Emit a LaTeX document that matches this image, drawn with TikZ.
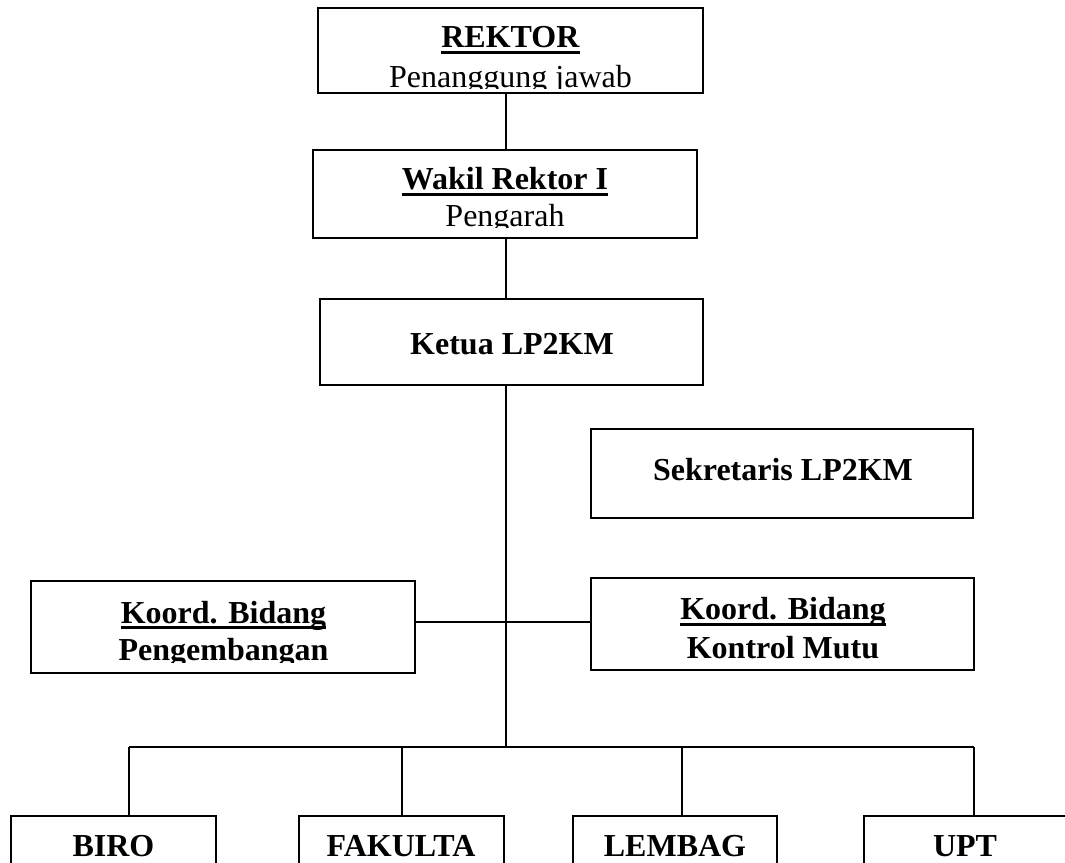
\documentclass[tikz,border=0pt]{standalone}
\usepackage{fontspec}
\setmainfont{Liberation Serif}
\usetikzlibrary{fit}
\newcommand\ulx[1]{\setbox0\hbox{#1}\rlap{\rule[-4.6pt]{\wd0}{2.1pt}}\box0}
\begin{document}
\begin{tikzpicture}[x=0.75pt,y=-0.75pt,
  orgbox/.style={draw, line width=1.5pt, inner sep=0pt},
  conn/.style={line width=1.5pt},
  txt/.style={anchor=base, inner sep=0pt, font=\fontsize{24}{28}\selectfont}]
\useasboundingbox (0,0) rectangle (1065,863);
% boxes
\node[orgbox, fit={(318,8) (703,93)}] (rektor) {};
\node[orgbox, fit={(313,150) (697,238)}] (wakil) {};
\node[orgbox, fit={(320,299) (703,385)}] (ketua) {};
\node[orgbox, fit={(591,429) (973,518)}] (sekr) {};
\node[orgbox, fit={(31,581) (415,673)}] (kpeng) {};
\node[orgbox, fit={(591,578) (974,670)}] (kmutu) {};
\node[orgbox, fit={(11,816) (216,900)}] (biro) {};
\node[orgbox, fit={(299,816) (504,900)}] (fak) {};
\node[orgbox, fit={(573,816) (777,900)}] (lem) {};
\node[orgbox, fit={(864,816) (1069,900)}] (upt) {};
% texts
\begin{scope}
\clip (318,8) rectangle (703,89);
\node[txt] (trektor) at (510.5,48) {\ulx{\textbf{REKTOR}}};
\node[txt] (trektor2) at (510.5,88) {Penanggung jawab};
\end{scope}
\begin{scope}
\clip (313,150) rectangle (697,228);
\node[txt] (twakil) at (505,190) {\ulx{\textbf{Wakil Rektor I}}};
\node[txt] (twakil2) at (505,227) {Pengarah};
\end{scope}
\node[txt] (tketua) at (512,354) {\textbf{Ketua LP2KM}};
\node[txt] (tsekr) at (783,480) {\textbf{Sekretaris LP2KM}};
\begin{scope}
\clip (31,581) rectangle (415,662);
\node[txt] (tkpeng) at (223.5,623) {\ulx{\textbf{Koord. Bidang}}};
\node[txt] (tkpeng2) at (223.5,660) {\textbf{Pengembangan}};
\end{scope}
\begin{scope}
\clip (591,578) rectangle (974,662);
\node[txt] (tkmutu) at (783,619.5) {\ulx{\textbf{Koord. Bidang}}};
\node[txt] (tkmutu2) at (783,658) {\textbf{Kontrol Mutu}};
\end{scope}
\node[txt] (tbiro) at (113.5,856) {\textbf{BIRO}};
\node[txt] (tfak) at (401,856) {\textbf{FAKULTA}};
\node[txt] (tlem) at (675,856) {\textbf{LEMBAG}};
\node[txt] (tupt) at (965,856) {\textbf{UPT}};
% connectors
\coordinate (spine) at (506,0);
\coordinate (mid) at (506,622);
\coordinate (b1) at (129,747);
\coordinate (b2) at (402,747);
\coordinate (b3) at (682,747);
\coordinate (b4) at (974,747);
\draw[conn] (rektor.south -| spine) -- (wakil.north -| spine);
\draw[conn] (wakil.south -| spine) -- (ketua.north -| spine);
\draw[conn] (ketua.south -| spine) -- (spine |- b1);
\draw[conn] (kpeng.east |- mid) -- (kmutu.west |- mid);
\draw[conn] (b1) -- (b4);
\draw[conn] (b1) -- (b1 |- biro.north);
\draw[conn] (b2) -- (b2 |- fak.north);
\draw[conn] (b3) -- (b3 |- lem.north);
\draw[conn] (b4) -- (b4 |- upt.north);
\end{tikzpicture}
\end{document}
